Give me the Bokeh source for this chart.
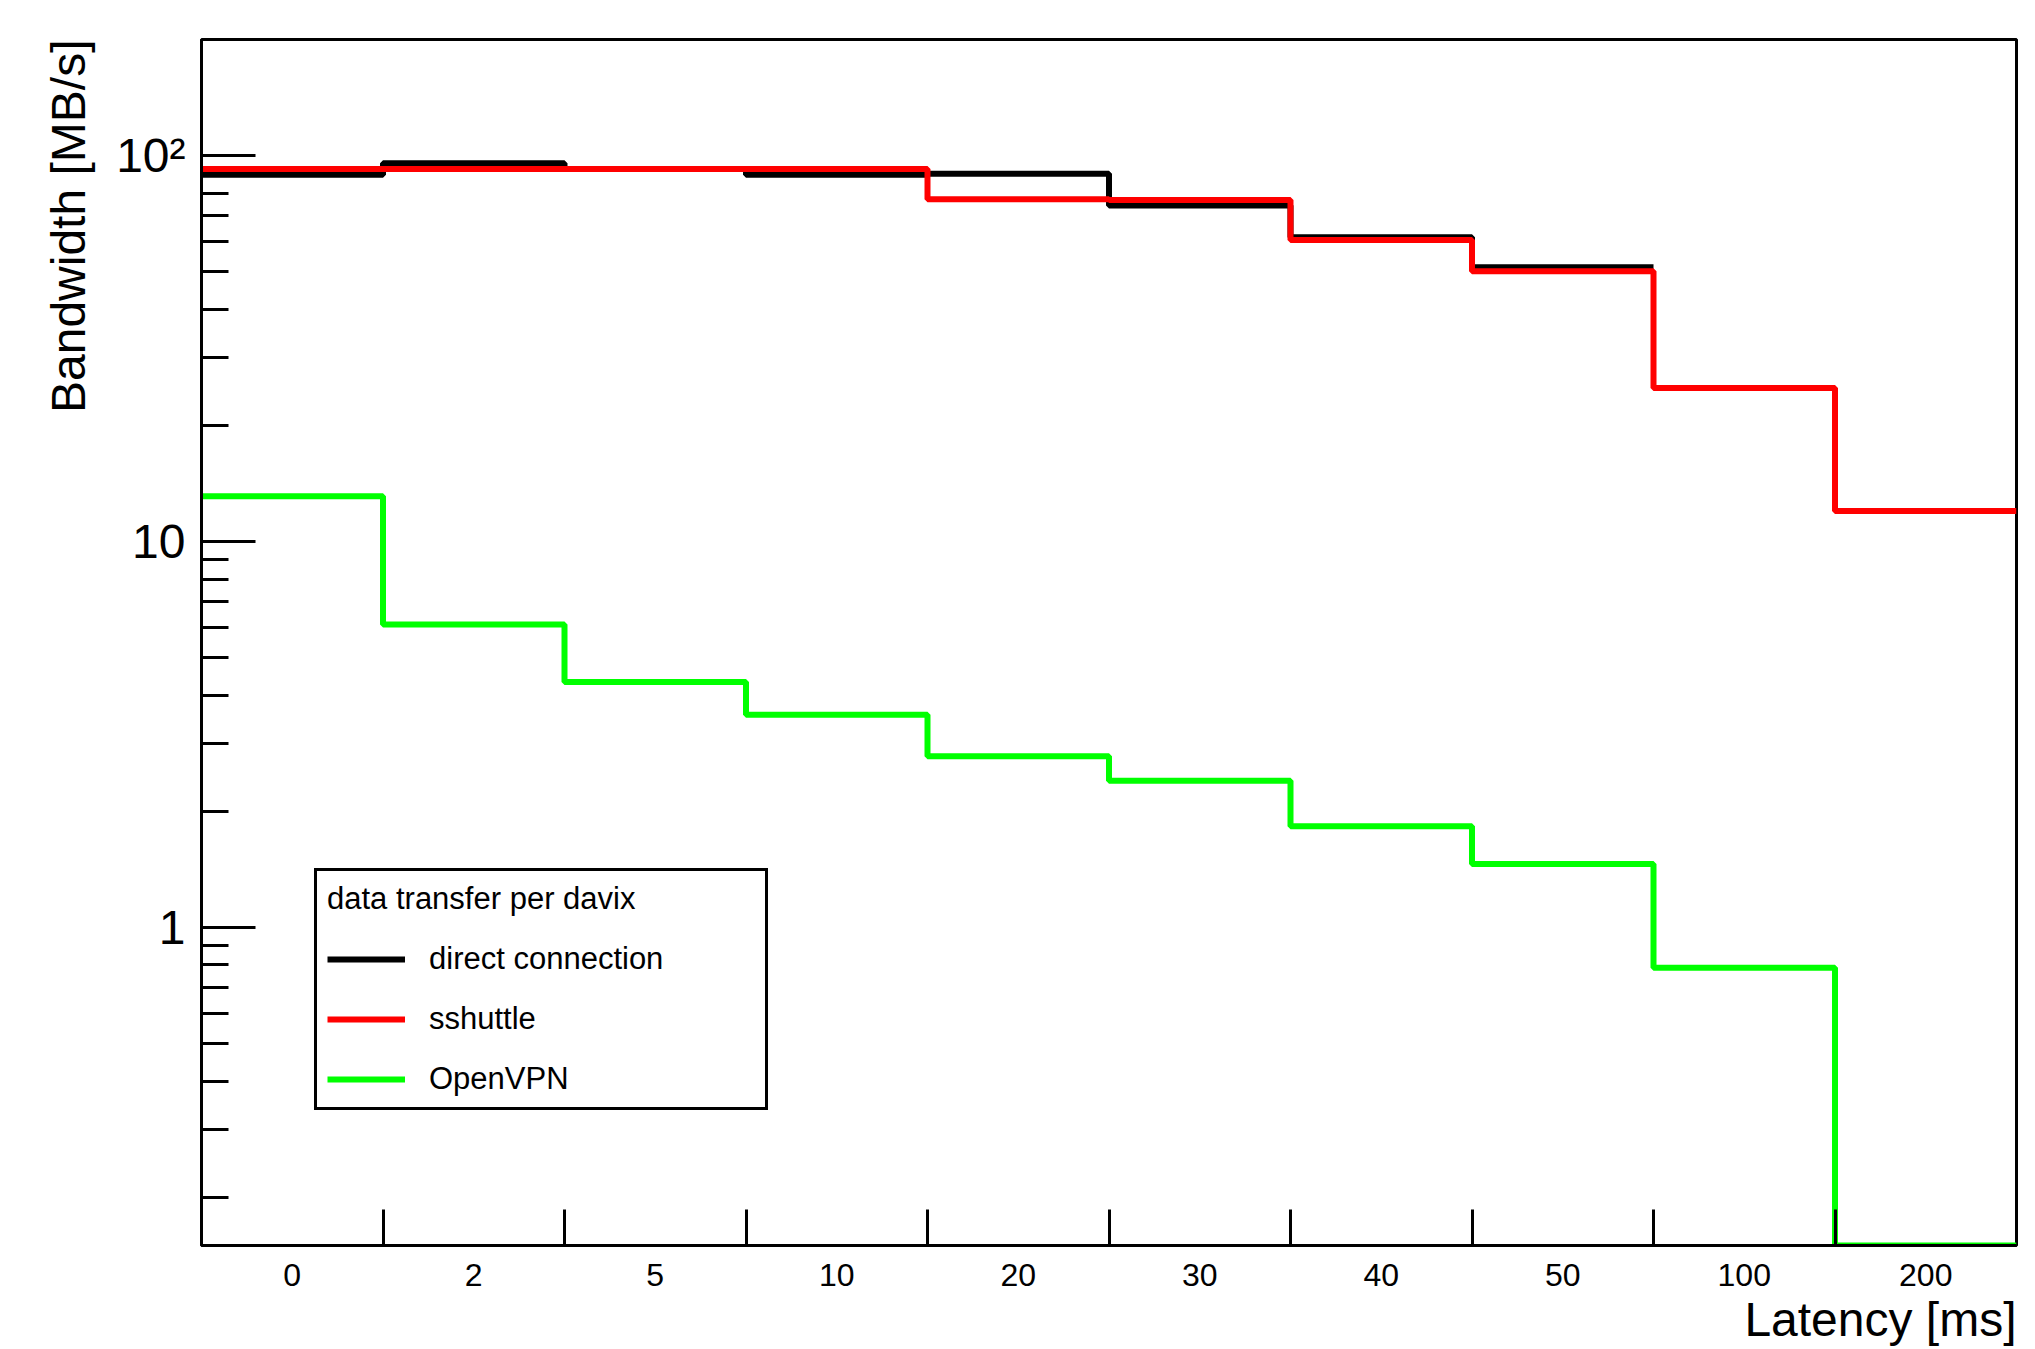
from bokeh.plotting import figure
from bokeh.models import (FixedTicker, Legend, LegendItem, Range1d, Title,
                          CustomJSTickFormatter)
from bokeh.embed import file_html
from bokeh.resources import INLINE

# ---------------- data ----------------
latency_labels = ["0", "2", "5", "10", "20", "30", "40", "50", "100", "200"]
direct_connection = [89.2, 95.6, 92.3, 89.2, 89.8, 74.3, 61.5, 51.4]
sshuttle = [92.3, 92.3, 92.3, 92.3, 77.1, 76.8, 60.5, 50.2, 25.0, 12.0]
openvpn = [13.1, 6.1, 4.33, 3.56, 2.78, 2.40, 1.83, 1.46, 0.787, 0.0]

y_tick_values = [1, 10, 100]
y_tick_labels = ["1", "10", "10\u00b2"]

Y_MIN, Y_MAX = 0.15, 200.0
FONT = "Liberation Sans"

W, H = 2035, 1349
p = figure(width=W, height=H, output_backend="svg", toolbar_location=None,
           x_range=Range1d(0, len(latency_labels)),
           y_range=Range1d(Y_MIN, Y_MAX), y_axis_type="log",
           min_border_left=201, min_border_right=19,
           min_border_top=39, min_border_bottom=104)
p.grid.visible = False
p.outline_line_color = "black"
p.outline_line_width = 3
p.background_fill_color = "white"
p.border_fill_color = "white"


def step_xy(vals):
    xs = list(range(len(vals) + 1))
    ys = [max(v, Y_MIN) for v in vals]
    ys = ys + [ys[-1]]
    return xs, ys


xb, yb = step_xy(direct_connection)
r_black = p.step(xb, yb, mode="after", line_color="black", line_width=6)
xr, yr = step_xy(sshuttle)
r_red = p.step(xr, yr, mode="after", line_color="#ff0000", line_width=6)
xg, yg = step_xy(openvpn)
r_green = p.step(xg, yg, mode="after", line_color="#00ff00", line_width=6)

# ---------------- axes ----------------
xa = p.xaxis[0]
xa.ticker = FixedTicker(ticks=[i + 0.5 for i in range(len(latency_labels))],
                        minor_ticks=[i for i in range(1, len(latency_labels))])
xa.formatter = CustomJSTickFormatter(args=dict(labels=latency_labels),
                                     code="const i = Math.floor(tick); return (i >= 0 && i < labels.length) ? labels[i] : '';")
xa.major_tick_in = 0
xa.major_tick_out = 0
xa.minor_tick_in = 36
xa.minor_tick_out = 0
xa.major_label_standoff = 18
xa.major_label_text_font_size = "32px"

ya = p.yaxis[0]
minor = [k * 10.0 ** e for e in (-1, 0, 1) for k in range(2, 10)]
minor = [m for m in minor if Y_MIN < m < Y_MAX]
ya.ticker = FixedTicker(ticks=y_tick_values, minor_ticks=minor)
ya.formatter = CustomJSTickFormatter(args=dict(vals=y_tick_values, labs=y_tick_labels),
                                     code="for (let i = 0; i < vals.length; i++) { if (Math.abs(tick - vals[i]) < 1e-9 * vals[i]) return labs[i]; } return '';")
ya.major_tick_in = 54
ya.major_tick_out = 0
ya.minor_tick_in = 27
ya.minor_tick_out = 0
ya.major_label_standoff = 16
ya.major_label_text_font_size = "48px"

for ax in (xa, ya):
    ax.axis_line_color = "black"
    ax.axis_line_width = 3
    ax.major_tick_line_color = "black"
    ax.major_tick_line_width = 3
    ax.minor_tick_line_color = "black"
    ax.minor_tick_line_width = 3
    ax.major_label_text_font = FONT
    ax.major_label_text_color = "black"

# axis titles
p.add_layout(Title(text="Bandwidth [MB/s]", align="right", standoff=38,
                   text_font=FONT, text_font_size="48px",
                   text_font_style="normal", text_color="black"), "left")
p.add_layout(Title(text="Latency [ms]", align="right", standoff=5,
                   text_font=FONT, text_font_size="48px",
                   text_font_style="normal", text_color="black"), "below")

# ---------------- legend ----------------
legend = Legend(items=[LegendItem(label="direct connection", renderers=[r_black]),
                       LegendItem(label="sshuttle", renderers=[r_red]),
                       LegendItem(label="OpenVPN", renderers=[r_green])],
                location=(113, 135), title="data transfer per davix",
                border_line_color="black", border_line_width=3,
                border_line_alpha=1.0,
                background_fill_color="white", background_fill_alpha=1.0,
                padding=10, margin=0, spacing=24,
                glyph_width=78, glyph_height=30, label_height=30,
                label_width=326, label_standoff=24,
                label_text_font=FONT, label_text_font_size="31px",
                label_text_color="black",
                title_text_font=FONT, title_text_font_size="31px",
                title_text_font_style="normal", title_text_color="black",
                title_standoff=24)
p.add_layout(legend)

open("out.html", "w").write(file_html(p, INLINE))
